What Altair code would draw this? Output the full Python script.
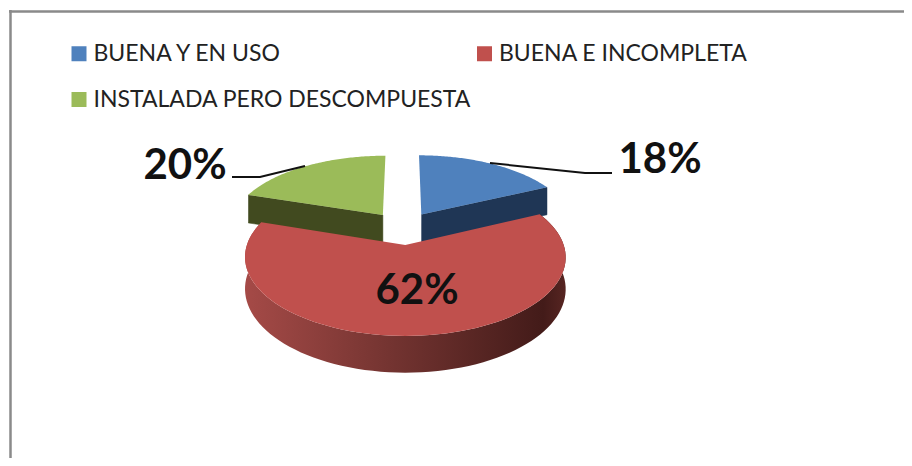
import numpy as np
import pandas as pd
import altair as alt

categories = ["BUENA Y EN USO", "BUENA E INCOMPLETA", "INSTALADA PERO DESCOMPUESTA"]
values = [18, 62, 20]
labels = ["18%", "62%", "20%"]
face_colors = ["#4f81bd", "#c0504d", "#9bbb59"]
wall_colors = ["#1f3655", "#8a3d3a", "#414a1f"]
legend_order = [categories[0], categories[2], categories[1]]
legend_colors = [face_colors[0], face_colors[2], face_colors[1]]

# perspective model of the tilted, exploded pie
CX, CY, A, B, K, EXPL, DEPTH = 403, 228, 71.7, 153, 0.149, 0.23, 30


def project(u, v):
    s = 1 + K * np.asarray(v, dtype=float)
    return CX + B * np.asarray(u, dtype=float) / s, CY - A * np.asarray(v, dtype=float) / s, DEPTH / s


def wedge(start, end):
    mid = (start + end) / 2
    ou, ov = EXPL * np.sin(mid), EXPL * np.cos(mid)
    t = np.linspace(start, end, 90)
    u = np.r_[ou, ou + np.sin(t)]
    v = np.r_[ov, ov + np.cos(t)]
    return project(u, v)


ends = np.cumsum(values) / sum(values) * 2 * np.pi
starts = np.r_[0, ends[:-1]]

walls, faces = {}, {}
for cat, a, b in zip(categories, starts, ends):
    x, y, d = wedge(a, b)
    faces[cat] = pd.DataFrame({"x": x, "y": y, "cat": cat, "o": np.arange(len(x))})
    if cat == categories[0]:      # cut edge apex -> end
        idx = [0, len(x) - 1]
    elif cat == categories[2]:    # cut edge start -> apex
        idx = [1, 0]
    else:                         # rim
        idx = list(range(1, len(x)))
    wx = np.r_[x[idx], x[idx][::-1]]
    wy = np.r_[y[idx], (y[idx] + d[idx])[::-1]]
    walls[cat] = pd.DataFrame({"x": wx, "y": wy, "cat": cat, "o": np.arange(len(wx))})

PW, PH = 896, 450
xs = alt.Scale(domain=[8, 8 + PW], range=[0, PW], nice=False, zero=False)
ys = alt.Scale(domain=[8, 8 + PH], range=[0, PH], nice=False, zero=False)
X = alt.X("x:Q", scale=xs, axis=None)
Y = alt.Y("y:Q", scale=ys, axis=None)
enc = dict(x=X, y=Y, order=alt.Order("o:Q"))


def poly(df, fill):
    return alt.Chart(df).mark_line(fill=fill, stroke=fill if isinstance(fill, str) else "transparent",
                                   strokeWidth=0.5).encode(**enc)


red_grad = alt.LinearGradient(
    gradient="linear", x1=0, x2=1, y1=0, y2=0,
    stops=[alt.GradientStop(offset=0, color="#a54a47"),
           alt.GradientStop(offset=0.45, color="#743431"),
           alt.GradientStop(offset=0.93, color="#431b19"),
           alt.GradientStop(offset=1, color="#572522")],
)

frame_h = alt.Chart(pd.DataFrame({"x": [9], "x2": [8 + PW], "y": [11.5]})).mark_rule(
    color="#8a8a8a", strokeWidth=2.5).encode(x=alt.X("x:Q", scale=xs, axis=None), x2="x2:Q", y=alt.Y("y:Q", scale=ys, axis=None))
frame_v = alt.Chart(pd.DataFrame({"x": [10.5], "y": [10], "y2": [8 + PH]})).mark_rule(
    color="#8a8a8a", strokeWidth=2.5).encode(x=alt.X("x:Q", scale=xs, axis=None), y=alt.Y("y:Q", scale=ys, axis=None), y2="y2:Q")

wall_layers = [poly(walls[categories[0]], wall_colors[0]), poly(walls[categories[2]], wall_colors[2]),
               poly(walls[categories[1]], red_grad)]

legend = alt.Legend(
    title=None, orient="none", legendX=59.5, legendY=34, columns=2, symbolType="square",
    symbolSize=225, symbolStrokeWidth=0, labelFont="Lato", labelFontSize=23, labelColor="#222222",
    labelOffset=3, rowPadding=22, columnPadding=1.5, gridAlign="each", labelLimit=500, symbolOpacity=1,
)
faces_chart = (
    alt.Chart(pd.concat(faces.values()))
    .mark_line(stroke="transparent", strokeWidth=0)
    .encode(
        **enc,
        fill=alt.Fill("cat:N", scale=alt.Scale(domain=legend_order, range=legend_colors), sort=legend_order, legend=legend),
    )
)

# leader lines
lead = pd.DataFrame({
    "x": [490, 585, 612, 305, 260, 232],
    "y": [163, 173, 173, 166, 177, 177],
    "g": ["a", "a", "a", "b", "b", "b"],
    "o": [0, 1, 2, 0, 1, 2],
})
lead_chart = alt.Chart(lead).mark_line(color="#111111", strokeWidth=2).encode(**enc, detail="g:N")

text_df = pd.DataFrame({"x": [660, 417, 185], "y": [160, 291, 166], "t": labels})
text_chart = alt.Chart(text_df).mark_text(
    font="Lato", fontWeight="bold", fontSize=42, color="#111111", baseline="middle", align="center"
).encode(x=X, y=Y, text="t:N")

chart = alt.layer(frame_h, frame_v, *wall_layers, faces_chart, lead_chart, text_chart).properties(
    width=PW, height=PH, padding=0, autosize=alt.AutoSizeParams(type="none"),
).configure_view(stroke=None)

chart.save("out.html", embed_options={"renderer": "svg", "actions": False})
